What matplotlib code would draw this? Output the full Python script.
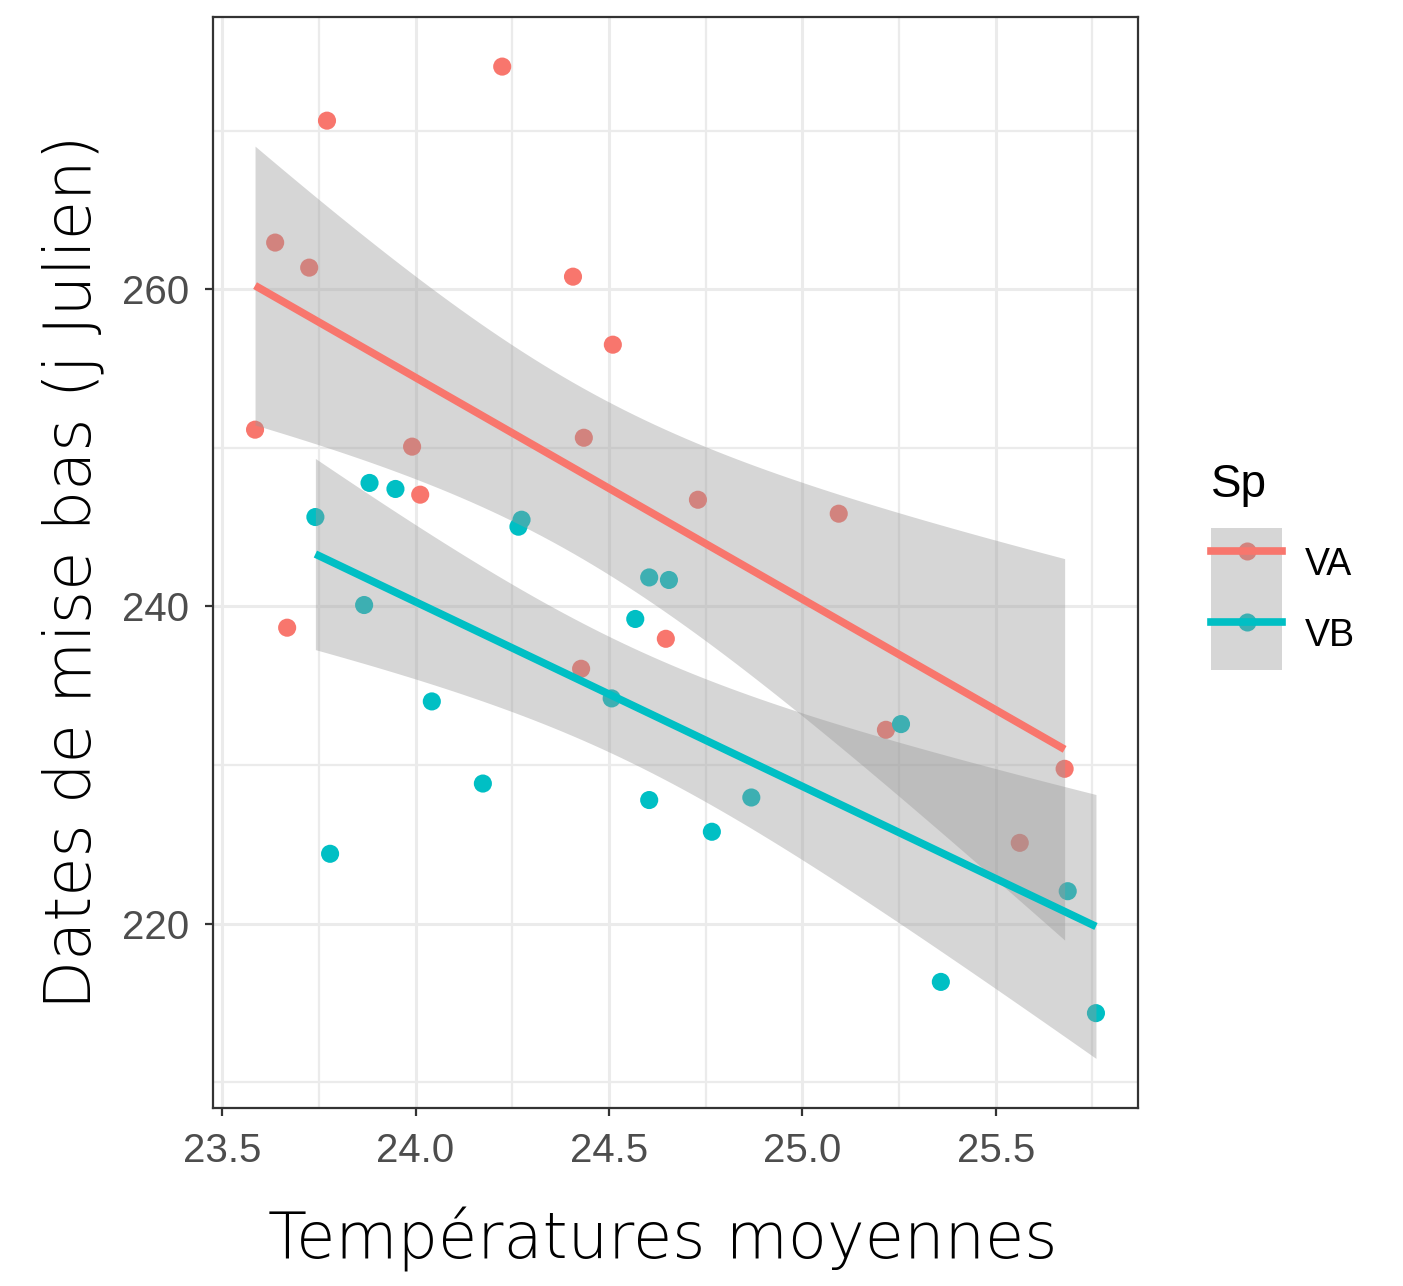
import numpy as np
import matplotlib
matplotlib.use("Agg")
import matplotlib.pyplot as plt
from matplotlib.lines import Line2D
from matplotlib.patches import Patch
from matplotlib.legend_handler import HandlerTuple
from math import gamma, sqrt, pi

# ---------------- data ----------------
va_temp = [23.585, 23.637, 23.725, 23.771, 23.668, 23.991, 24.012, 24.224, 24.407,
           24.510, 24.435, 24.428, 24.647, 24.730, 25.094, 25.216, 25.562, 25.678]
va_date = [251.15, 262.95, 261.37, 270.64, 238.66, 250.08, 247.05, 274.05, 260.80,
           256.51, 250.64, 236.07, 237.96, 246.73, 245.85, 232.22, 225.09, 229.76]

vb_temp = [23.741, 23.779, 23.867, 23.881, 23.948, 24.042, 24.174, 24.266, 24.274, 24.507,
           24.568, 24.604, 24.655, 24.604, 24.766, 24.868, 25.255, 25.358, 25.686, 25.759]
vb_date = [245.64, 224.40, 240.09, 247.79, 247.41, 234.01, 228.83, 245.03, 245.47, 234.20,
           239.21, 241.83, 241.67, 227.79, 225.79, 227.95, 232.58, 216.32, 222.04, 214.35]

species = ["VA", "VB"]
colors = {"VA": "#F8766D", "VB": "#00BFC4"}
data = {"VA": (va_temp, va_date), "VB": (vb_temp, vb_date)}

x_ticks = [23.5, 24.0, 24.5, 25.0, 25.5]
x_tick_labels = ["23.5", "24.0", "24.5", "25.0", "25.5"]
y_ticks = [220, 240, 260]
y_tick_labels = ["220", "240", "260"]


def t_ppf(p, df):
    xs = np.linspace(0, 12, 240001)
    c = gamma((df + 1) / 2) / (sqrt(df * pi) * gamma(df / 2))
    pdf = c * (1 + xs ** 2 / df) ** (-(df + 1) / 2)
    cdf = 0.5 + np.concatenate([[0], np.cumsum((pdf[1:] + pdf[:-1]) / 2 * np.diff(xs))])
    return float(np.interp(p, cdf, xs))


def lm_fit(x, y, n_grid=80):
    x = np.asarray(x); y = np.asarray(y)
    n = len(x)
    b, a = np.polyfit(x, y, 1)
    resid = y - (a + b * x)
    sigma = np.sqrt(np.sum(resid ** 2) / (n - 2))
    xbar = x.mean(); sxx = np.sum((x - xbar) ** 2)
    xg = np.linspace(x.min(), x.max(), n_grid)
    yg = a + b * xg
    se = sigma * np.sqrt(1 / n + (xg - xbar) ** 2 / sxx)
    t = t_ppf(0.975, n - 2)
    return xg, yg, yg - t * se, yg + t * se


W, H, DPI = 1403, 1286, 100
fig = plt.figure(figsize=(W / DPI, H / DPI), dpi=DPI)
ax = fig.add_axes([213 / W, 1 - 1108 / H, (1138 - 213) / W, (1108 - 17) / H])

# points first
for sp in species:
    xs, ys = data[sp]
    ax.scatter(xs, ys, s=170, color=colors[sp], edgecolors="none", zorder=2)

# ribbons then lines
for sp in species:
    xs, ys = data[sp]
    xg, yg, lo, hi = lm_fit(xs, ys)
    ax.fill_between(xg, lo, hi, color="#999999", alpha=0.4, linewidth=0, zorder=3)
for sp in species:
    xs, ys = data[sp]
    xg, yg, lo, hi = lm_fit(xs, ys)
    ax.plot(xg, yg, color=colors[sp], lw=5.5, zorder=4, solid_capstyle="butt")

ax.margins(x=0.05, y=0.05)
ax.autoscale_view()

ax.set_xticks(x_ticks)
ax.set_xticklabels(x_tick_labels)
ax.set_yticks(y_ticks)
ax.set_yticklabels(y_tick_labels)
ax.set_xticks([23.75, 24.25, 24.75, 25.25, 25.75], minor=True)
ax.set_yticks([210, 230, 250, 270], minor=True)

ax.set_axisbelow(True)
ax.grid(which="major", color="#EBEBEB", lw=2.2, zorder=0)
ax.grid(which="minor", color="#EBEBEB", lw=1.6, zorder=0)
ax.tick_params(which="minor", length=0)
ax.tick_params(which="major", length=6, width=1.6, color="#333333",
               labelsize=29, labelcolor="#4D4D4D", pad=11)
for s in ax.spines.values():
    s.set_color("#333333")
    s.set_linewidth(1.6)

title_font = dict(family=["DejaVu Sans"], weight="light", color="black")
fig.text(663 / W, 1 - 1240 / H, "Températures moyennes", ha="center", va="center",
         fontsize=46, **title_font)
fig.text(73 / W, 1 - 572 / H, "Dates de mise bas (j Julien)", ha="center", va="center",
         rotation=90, fontsize=46, **title_font)

handles = []
for sp in species:
    pt = Line2D([], [], marker="o", markersize=13, color=colors[sp], lw=0,
                markeredgewidth=0)
    rib = Patch(facecolor="#999999", alpha=0.4, edgecolor="none")
    ln = Line2D([], [], color=colors[sp], lw=5.5)
    handles.append((pt, rib, ln))

fig.text(1211 / W, 1 - 485 / H, "Sp", ha="left", va="center", fontsize=33,
         family=["Liberation Sans", "DejaVu Sans"], color="black")
leg = fig.legend(handles, species, handler_map={tuple: HandlerTuple(ndivide=1, pad=0)},
                 loc="upper left", bbox_to_anchor=(1211 / W, 1 - 528 / H),
                 frameon=False, fontsize=27,
                 handlelength=1.9, handleheight=2.53, labelspacing=0,
                 handletextpad=0.6, borderpad=0, borderaxespad=0)
for t in leg.get_texts():
    t.set_family(["Liberation Sans", "DejaVu Sans"])
for t in ax.get_xticklabels() + ax.get_yticklabels():
    t.set_family(["Liberation Sans", "DejaVu Sans"])

fig.savefig("out.png", dpi=DPI)
